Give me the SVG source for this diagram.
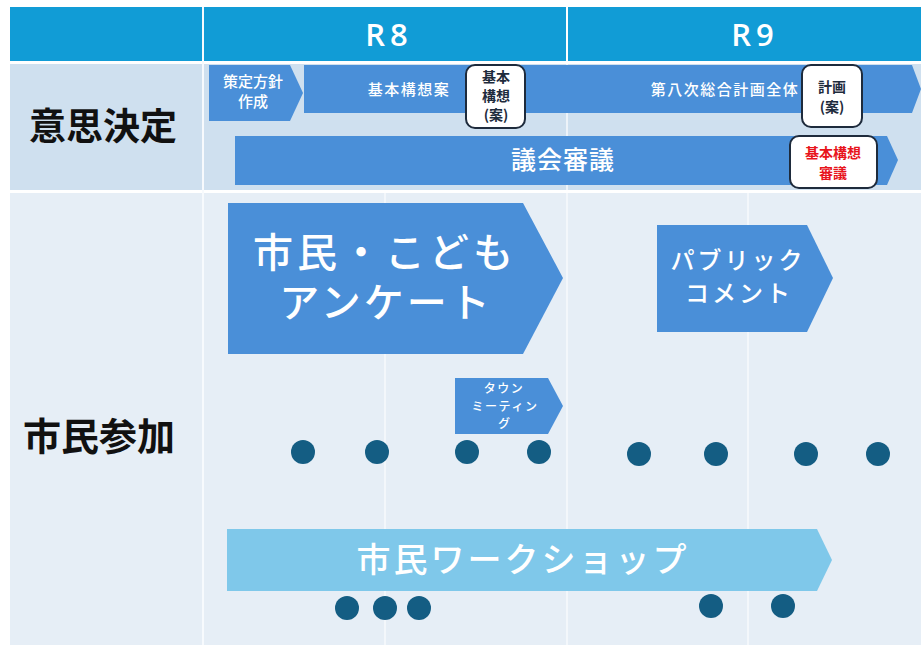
<svg xmlns="http://www.w3.org/2000/svg" width="921" height="645" viewBox="0 0 921 645">
<defs>
<style>
.jp{font-family:"Noto Sans CJK JP","Noto Sans",sans-serif}
.w{fill:#ffffff}
.m{font-weight:500}
.bar{fill:#4A8FD8}
.box{fill:#ffffff;stroke:#1E2B3C;stroke-width:2}
.dot{fill:#145D83}
.grid{stroke:#F7FAFD;stroke-width:1.5}
</style>
</defs>
<rect x="0" y="0" width="921" height="645" fill="#ffffff"/>
<g id="table">
<rect x="10" y="7" width="911" height="54" fill="#119CD6"/>
<rect x="10" y="64" width="911" height="126" fill="#CFE0EF"/>
<rect x="10" y="193" width="911" height="452" fill="#E6EEF6"/>
<line x1="203" y1="7" x2="203" y2="645" stroke="#F7FAFD" stroke-width="2"/>
<line x1="567" y1="7" x2="567" y2="61" stroke="#ffffff" stroke-width="2"/>
<line class="grid" x1="567" y1="64" x2="567" y2="190"/>
<line class="grid" x1="385" y1="193" x2="385" y2="645"/>
<line class="grid" x1="567" y1="193" x2="567" y2="645"/>
<line class="grid" x1="748" y1="193" x2="748" y2="645"/>
<text x="389" y="46" class="w" font-family="'Open Sans','Noto Sans',sans-serif" font-weight="600" font-size="31" text-anchor="middle" letter-spacing="5">R8</text>
<text x="755" y="46" class="w" font-family="'Open Sans','Noto Sans',sans-serif" font-weight="600" font-size="31" text-anchor="middle" letter-spacing="5">R9</text>
<text x="103" y="140" class="jp" font-size="37" font-weight="bold" text-anchor="middle" fill="#111111">意思決定</text>
<text x="99" y="450" class="jp" font-size="38" font-weight="bold" text-anchor="middle" fill="#111111">市民参加</text>
</g>
<g id="connectors"></g>
<g id="plan-bar">
<polygon class="bar" points="304,65 912,65 921,89 912,113 304,113"/>
<text x="409" y="95" class="jp w m" font-size="15" text-anchor="middle" letter-spacing="1.5">基本構想案</text>
<text x="725" y="95" class="jp w m" font-size="15" text-anchor="middle" letter-spacing="1.5">第八次総合計画全体</text>
</g>
<g id="policy">
<polygon class="bar" points="209,65 290,65 303,93 290,121 209,121"/>
<text x="253" y="87" class="jp w m" font-size="15" text-anchor="middle">策定方針</text>
<text x="253" y="107" class="jp w m" font-size="15" text-anchor="middle">作成</text>
</g>
<g id="kihon-an">
<rect class="box" x="466" y="65" width="59" height="63" rx="9"/>
<text x="496" y="82" class="jp" font-size="14" font-weight="bold" text-anchor="middle" fill="#1E2B3C">基本</text>
<text x="496" y="101" class="jp" font-size="14" font-weight="bold" text-anchor="middle" fill="#1E2B3C">構想</text>
<text x="496" y="120" class="jp" font-size="14" font-weight="bold" text-anchor="middle" fill="#1E2B3C">(案)</text>
</g>
<g id="keikaku-an">
<rect class="box" x="802" y="65" width="60" height="62" rx="9"/>
<text x="832" y="92" class="jp" font-size="14" font-weight="bold" text-anchor="middle" fill="#1E2B3C">計画</text>
<text x="832" y="112" class="jp" font-size="14" font-weight="bold" text-anchor="middle" fill="#1E2B3C">(案)</text>
</g>
<g id="gikai">
<polygon class="bar" points="235,136 887,136 898,160 887,185 235,185"/>
<text x="563" y="169" class="jp w m" font-size="25" text-anchor="middle" letter-spacing="1">議会審議</text>
</g>
<g id="kihon-shingi">
<rect class="box" x="790" y="136" width="87" height="52" rx="9"/>
<text x="833" y="158" class="jp" font-size="14" font-weight="bold" text-anchor="middle" fill="#E8141C">基本構想</text>
<text x="833" y="178" class="jp" font-size="14" font-weight="bold" text-anchor="middle" fill="#E8141C">審議</text>
</g>
<g id="survey">
<polygon class="bar" points="228,203 523,203 563,278 523,354 228,354"/>
<text x="385" y="267" class="jp w m" font-size="40" text-anchor="middle" letter-spacing="4">市民・こども</text>
<text x="386" y="317" class="jp w m" font-size="40" text-anchor="middle" letter-spacing="3">アンケート</text>
</g>
<g id="public-comment">
<polygon class="bar" points="657,225 807,225 833,278 807,332 657,332"/>
<text x="738" y="269" class="jp w m" font-size="24" text-anchor="middle" letter-spacing="3">パブリック</text>
<text x="739" y="302" class="jp w m" font-size="24" text-anchor="middle" letter-spacing="3">コメント</text>
</g>
<g id="town-meeting">
<polygon class="bar" points="455,378 548,378 563,406 548,434 455,434"/>
<text x="504" y="393" class="jp w m" font-size="12" text-anchor="middle" letter-spacing="1.5">タウン</text>
<text x="505" y="411" class="jp w m" font-size="12" text-anchor="middle" letter-spacing="1.5">ミーティン</text>
<text x="504" y="428" class="jp w m" font-size="12" text-anchor="middle">グ</text>
</g>
<g id="dots-row1">
<circle class="dot" cx="303" cy="452" r="12"/>
<circle class="dot" cx="377" cy="452" r="12"/>
<circle class="dot" cx="467" cy="452" r="12"/>
<circle class="dot" cx="539" cy="452" r="12"/>
<circle class="dot" cx="639" cy="454" r="12"/>
<circle class="dot" cx="716" cy="454" r="12"/>
<circle class="dot" cx="806" cy="454" r="12"/>
<circle class="dot" cx="878" cy="454" r="12"/>
</g>
<g id="workshop">
<polygon points="227,529 817,529 832,560 817,591 227,591" fill="#7FC8EA"/>
<text x="523" y="572" class="jp w m" font-size="34" text-anchor="middle" letter-spacing="3">市民ワークショップ</text>
</g>
<g id="dots-row2">
<circle class="dot" cx="347" cy="608" r="12"/>
<circle class="dot" cx="385" cy="608" r="12"/>
<circle class="dot" cx="419" cy="608" r="12"/>
<circle class="dot" cx="711" cy="606" r="12"/>
<circle class="dot" cx="783" cy="606" r="12"/>
</g>
</svg>
